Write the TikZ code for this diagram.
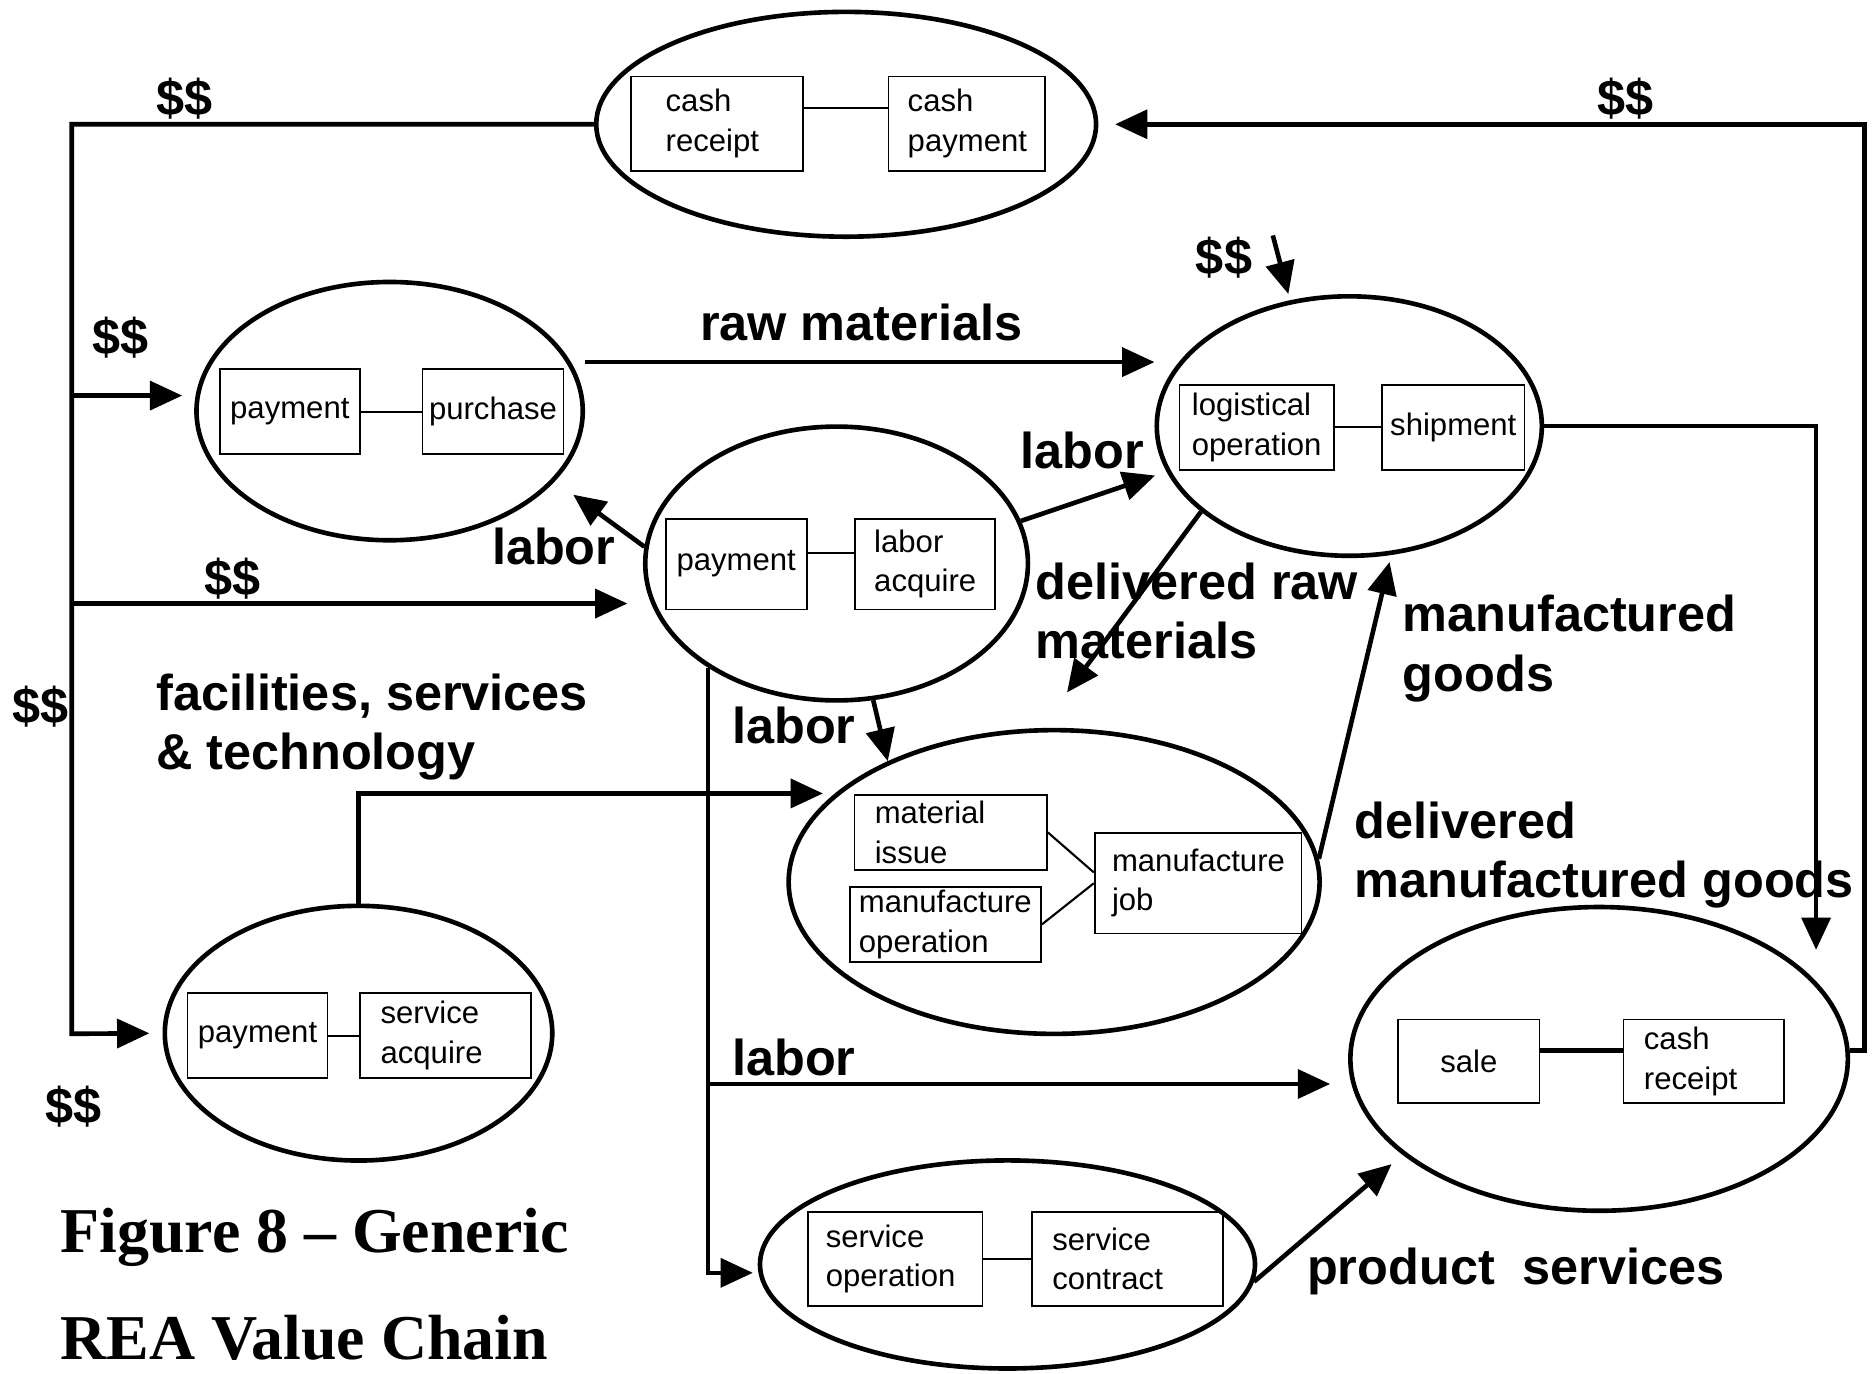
\documentclass[tikz,border=0pt]{standalone}
\usepackage{fontspec}
\setmainfont{Liberation Sans}
\newfontfamily\capfont{Liberation Serif}
\usetikzlibrary{shapes.geometric,arrows.meta,positioning}

\begin{document}
\begin{tikzpicture}[x=0.01cm, y=-0.01cm,
    process/.style={ellipse, draw=black, line width=1.1pt, inner sep=0pt},
    event/.style={rectangle, draw=black, line width=0.4pt, align=left, inner sep=0pt, font=\fontsize{7.4}{9.4}\selectfont},
    link/.style={line width=0.5pt},
    flow/.style={line width=1.1pt, -{Triangle[length=0.27cm,width=0.24cm]}},
    tag/.style={font=\fontsize{12}{14.2}\selectfont\bfseries, inner sep=0pt}
  ]
  \useasboundingbox (0,0) rectangle (1568,1149);

    % Cash
    \node (p_cash) [process, minimum width=4.18cm, minimum height=1.88cm] at (708,104) {};
    \node (e_cashrec) [event, minimum width=1.44cm, minimum height=0.79cm, text width=0.86cm] at (600,103.5) {cash\\receipt};
    \node (e_cashpay) [event, minimum width=1.31cm, minimum height=0.79cm, text width=0.99cm, right=0.7cm of e_cashrec] {cash\\payment};
    \draw[link] ([yshift=0.13cm]e_cashrec.east) -- ([yshift=0.13cm]e_cashpay.west);

    % Purchase
    \node (p_purch) [process, minimum width=3.23cm, minimum height=2.16cm] at (326,344) {};
    \node (e_pay1) [event, minimum width=1.17cm, minimum height=0.71cm] at (242.5,344.5) {payment};
    \node (e_purch) [event, minimum width=1.18cm, minimum height=0.71cm, right=0.51cm of e_pay1] {purchase};
    \draw[link] (e_pay1) -- (e_purch);

    % Labor
    \node (p_lab) [process, minimum width=3.2cm, minimum height=2.29cm] at (700,471.5) {};
    \node (e_pay2) [event, minimum width=1.18cm, minimum height=0.76cm] at (616,472) {payment};
    \node (e_labacq) [event, minimum width=1.17cm, minimum height=0.76cm, text width=0.85cm, right=0.39cm of e_pay2] {labor\\acquire};
    \draw[link] ([yshift=0.09cm]e_pay2.east) -- ([yshift=0.09cm]e_labacq.west);

    % Logistics
    \node (p_log) [process, minimum width=3.22cm, minimum height=2.17cm] at (1129,356.5) {};
    \node (e_logop) [event, minimum width=1.29cm, minimum height=0.71cm] at (1051.5,357.5) {logistical\\operation};
    \node (e_ship) [event, minimum width=1.19cm, minimum height=0.71cm, right=0.39cm of e_logop] {shipment};
    \draw[link] (e_logop) -- (e_ship);

    % Manufacture
    \node (p_man) [process, minimum width=4.44cm, minimum height=2.54cm] at (882,738) {};
    \node (e_matiss) [event, minimum width=1.61cm, minimum height=0.63cm, text width=1.27cm] at (795.5,696.5) {material\\issue};
    \node (e_manop) [event, minimum width=1.6cm, minimum height=0.63cm] at (791,773.5) {manufacture\\operation};
    \node (e_job) [event, minimum width=1.73cm, minimum height=0.84cm, text width=1.44cm] at (1002.5,739) {manufacture\\job};
    \draw[link] (e_matiss.east) -- ([yshift=0.09cm]e_job.west);
    \draw[link] (e_manop.east) -- (e_job.west);

    % Service acquisition
    \node (p_svc) [process, minimum width=3.24cm, minimum height=2.13cm] at (300,864.5) {};
    \node (e_pay3) [event, minimum width=1.17cm, minimum height=0.71cm] at (215.5,866.5) {payment};
    \node (e_svcacq) [event, minimum width=1.43cm, minimum height=0.71cm, text width=1.09cm, right=0.26cm of e_pay3] {service\\acquire};
    \draw[link] (e_pay3) -- (e_svcacq);

    % Sale
    \node (p_sale) [process, minimum width=4.16cm, minimum height=2.54cm] at (1338,886) {};
    \node (e_sale) [event, minimum width=1.18cm, minimum height=0.7cm] at (1229,888) {sale};
    \node (e_cashrec2) [event, minimum width=1.34cm, minimum height=0.7cm, text width=1cm, right=0.69cm of e_sale] {cash\\receipt};
    \draw[link, line width=1.1pt] ([yshift=0.09cm]e_sale.east) -- ([yshift=0.09cm]e_cashrec2.west);

    % Service contract
    \node (p_con) [process, minimum width=4.14cm, minimum height=1.74cm] at (843,1058) {};
    \node (e_svcop) [event, minimum width=1.46cm, minimum height=0.79cm, text width=1.16cm] at (749,1053.5) {service\\operation};
    \node (e_svccon) [event, minimum width=1.6cm, minimum height=0.79cm, text width=1.26cm, right=0.4cm of e_svcop] {service\\contract};
    \draw[link] (e_svcop) -- (e_svccon);

    % Money flows
    \coordinate (t_pur) at (60,331);
    \coordinate (t_lab) at (60,505);
    \coordinate (t_svc) at (60,865);
    \coordinate (t_dol) at (1065,197);
    \draw[flow, shorten >=0.11cm] (p_cash.west) -| (t_svc) -- (p_svc.west);
    \draw[flow, shorten >=0.1cm] (t_pur) -- (t_pur -| p_purch.west);
    \draw[flow, shorten >=0.13cm] (t_lab) -- (t_lab -| p_lab.west);
    \draw[flow, shorten >=0.14cm] ([yshift=0.07cm]p_sale.east) -- ++(12,0) |- (p_cash.east);
    \draw[flow] (t_dol) -- ([xshift=-0.51cm]p_log.north);

    % Resource flows
    \draw[flow] ([yshift=0.41cm]p_purch.east) coordinate (t_raw) -- (t_raw -| p_log.west);
    \draw[flow, shorten >=0.19cm] (p_lab.175) -- (p_purch.-23);
    \draw[flow, shorten >=0.1cm] (p_lab.13) -- (p_log.194);
    \draw[flow] (p_lab.-75) -- (p_man.144);
    \draw[flow, shorten >=0.04cm] (p_lab.-141) |- ([yshift=-0.07cm]p_con.west);
    \coordinate (t_job) at (594,907);
    \draw[flow, shorten >=0.15cm] (t_job) -- (t_job -| p_sale.west);
    \draw[flow, shorten >=0.37cm] (p_log.-150) -- (p_man.95);
    \draw[flow, shorten >=0.06cm] (p_man.5) -- (p_log.-72);
    \draw[flow] (p_log.east) -| ([xshift=0.33cm]p_sale.north east);
    \draw[flow, shorten >=0.1cm] (p_svc.north) |- (p_man.158);
    \draw[flow, shorten >=0.12cm] (p_con.-4) -- (p_sale.-154);

    % Labels
    \node (l_dol1) [tag, anchor=base west] at (130,97) {\$\$};
    \node (l_dol2) [tag, anchor=base west] at (1336,97) {\$\$};
    \node (l_dol3) [tag, anchor=base west] at (1000,230) {\$\$};
    \node (l_dol4) [tag, anchor=base west] at (77,297) {\$\$};
    \node (l_dol5) [tag, anchor=base west] at (170,498) {\$\$};
    \node (l_dol6) [tag, anchor=base west] at (10,605) {\$\$};
    \node (l_dol7) [tag, anchor=base west] at (37,940) {\$\$};
    \node (l_raw) [tag, anchor=base west] at (585,285) {raw materials};
    \node (l_lab1) [tag, anchor=base west] at (853,392) {labor};
    \node (l_lab2) [tag, anchor=base west] at (411,472) {labor};
    \node (l_lab3) [tag, anchor=base west] at (612,622) {labor};
    \node (l_lab4) [tag, anchor=base west] at (612,900) {labor};
    \node (l_delraw) [tag, anchor=north west, align=left] at (866,470) {delivered raw\\materials};
    \node (l_mangoods) [tag, anchor=north west, align=left] at (1173,497) {manufactured\\goods};
    \node (l_fac) [tag, anchor=north west, align=left] at (130,563) {facilities, services\\\& technology};
    \node (l_delman) [tag, anchor=north west, align=left] at (1133,670) {delivered\\manufactured goods};
    \node (l_prod) [tag, anchor=base west] at (1093,1075) {product\ \ services};

    % Caption
    \node (caption) [anchor=north west, inner sep=0pt, align=left, font=\capfont\bfseries\fontsize{15.2}{25.6}\selectfont] at (50,1010) {Figure 8 – Generic\\REA Value Chain};

  \end{tikzpicture}
\end{document}
